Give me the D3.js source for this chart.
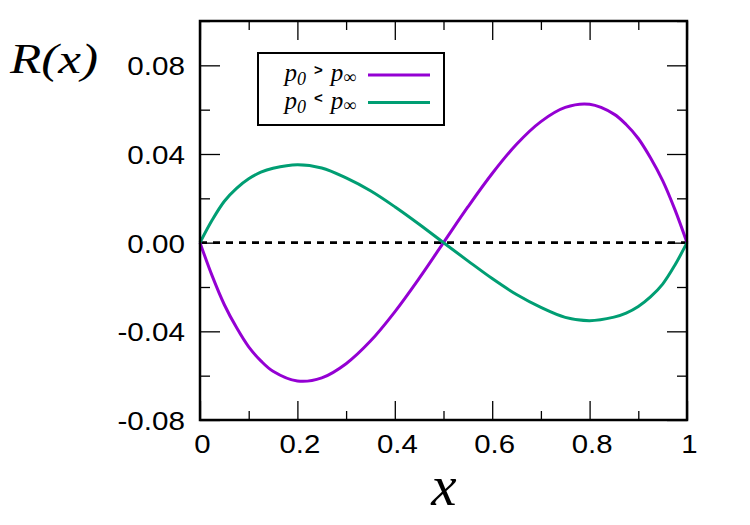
<!DOCTYPE html>
<html>
<head>
<meta charset="utf-8">
<script src="https://cdn.jsdelivr.net/npm/d3@7"></script>
<style>
  body { margin: 0; background: #fff; }
  svg text { fill: #000; }
</style>
</head>
<body>
<div id="chart"></div>
<script>
// values (denser near the ends where the curves bend hard)
var xs = [0, 0.025, 0.05, 0.075, 0.1, 0.125, 0.15, 0.2, 0.25, 0.3, 0.35, 0.4, 0.45, 0.5,
          0.55, 0.6, 0.65, 0.7, 0.75, 0.8, 0.85, 0.875, 0.9, 0.925, 0.95, 0.975, 1];
var r_high = [0, -0.0150, -0.0280, -0.0383, -0.0470, -0.0533, -0.0580, -0.0624, -0.0610, -0.0546, -0.0444, -0.0312, -0.0161, 0,
              0.0161, 0.0312, 0.0444, 0.0546, 0.0610, 0.0624, 0.0580, 0.0533, 0.0470, 0.0383, 0.0280, 0.0150, 0];
var r_low = [0, 0.0102, 0.0187, 0.0245, 0.0288, 0.0318, 0.0336, 0.0352, 0.0337, 0.0292, 0.0234, 0.0162, 0.0083, 0,
             -0.0082, -0.0162, -0.0234, -0.0292, -0.0337, -0.0352, -0.0336, -0.0318, -0.0288, -0.0245, -0.0187, -0.0102, 0];

var xticks_major = [0, 0.2, 0.4, 0.6, 0.8, 1];
var xticks_minor = [0.1, 0.3, 0.5, 0.7, 0.9];
var yticks_major = [-0.08, -0.04, 0, 0.04, 0.08];
var yticks_minor = [-0.06, -0.02, 0.02, 0.06, 0.1];

var svgwidth = 750;
var svgheight = 525;
var left = 200, top_ = 21, right = 687, bottom = 420;

var svg = d3.select('#chart').append('svg')
    .attr('width', svgwidth)
    .attr('height', svgheight)

var xscale = d3.scaleLinear().domain([0, 1]).range([left, right]);
var yscale = d3.scaleLinear().domain([-0.08, 0.1]).range([bottom, top_]);

var tickfont = '"Liberation Sans", Arial, Helvetica, sans-serif';
var seriffont = '"Liberation Serif", "Times New Roman", serif';

// the original text is a bit wider than these fonts, stretch it
function stretch(sel, k) {
    sel.each(function() {
        var w = this.getComputedTextLength();
        d3.select(this).attr('textLength', w * k).attr('lengthAdjust', 'spacingAndGlyphs');
    });
}

// minor ticks (all four sides)
function tickaxis(axis, size, tr) {
    var g = svg.append('g').attr('transform', tr)
        .call(axis.tickSize(size).tickFormat(''));
    g.select('.domain').remove();
    g.selectAll('.tick line').attr('stroke', '#000').attr('stroke-width', 1.3);
    return g;
}
tickaxis(d3.axisBottom(xscale).tickValues(xticks_minor), -9, 'translate(0,' + bottom + ')');
tickaxis(d3.axisTop(xscale).tickValues(xticks_minor), -9, 'translate(0,' + top_ + ')');
tickaxis(d3.axisTop(xscale).tickValues(xticks_major), -19, 'translate(0,' + top_ + ')');
tickaxis(d3.axisLeft(yscale).tickValues(yticks_minor), -10, 'translate(' + left + ',0)');
tickaxis(d3.axisRight(yscale).tickValues(yticks_minor), -10, 'translate(' + right + ',0)');
tickaxis(d3.axisRight(yscale).tickValues(yticks_major), -20, 'translate(' + right + ',0)');

// major ticks with labels
var xaxis = d3.axisBottom(xscale).tickValues(xticks_major).tickSize(-19)
    .tickPadding(10).tickFormat(d => d === 0 || d === 1 ? String(d) : d.toFixed(1));
var gx = svg.append('g').attr('transform', 'translate(0,' + bottom + ')').call(xaxis);
gx.select('.domain').remove();
gx.selectAll('.tick line').attr('stroke', '#000').attr('stroke-width', 1.3);
gx.selectAll('.tick text')
    .attr('font-family', tickfont).attr('font-size', 26)
    .attr('dy', '0.88em').attr('dx', 2)
    .call(stretch, 1.13);

var yaxis = d3.axisLeft(yscale).tickValues(yticks_major).tickSize(-20)
    .tickPadding(15).tickFormat(d => d.toFixed(2));
var gy = svg.append('g').attr('transform', 'translate(' + left + ',0)').call(yaxis);
gy.select('.domain').remove();
gy.selectAll('.tick line').attr('stroke', '#000').attr('stroke-width', 1.3);
gy.selectAll('.tick text')
    .attr('font-family', tickfont).attr('font-size', 26)
    .attr('dy', '0.36em')
    .call(stretch, 1.14);

// zero line
svg.append('line')
    .attr('x1', xscale(0)).attr('x2', xscale(1))
    .attr('y1', yscale(0)).attr('y2', yscale(0))
    .attr('stroke', '#000').attr('stroke-width', 2.6)
    .attr('stroke-dasharray', '7,6');

// curves
var curveline = d3.line().x((d, i) => xscale(xs[i])).y(d => yscale(d))
    .curve(d3.curveCatmullRom.alpha(0.5));
svg.append('path').datum(r_high)
    .attr('d', curveline)
    .attr('fill', 'none').attr('stroke', '#9400d3').attr('stroke-width', 3);
svg.append('path').datum(r_low)
    .attr('d', curveline)
    .attr('fill', 'none').attr('stroke', '#009e73').attr('stroke-width', 3);

// frame
svg.append('rect')
    .attr('x', left).attr('y', top_)
    .attr('width', right - left).attr('height', bottom - top_)
    .attr('fill', 'none').attr('stroke', '#000').attr('stroke-width', 2.5);

// axis titles
svg.append('text')
    .attr('x', 10).attr('y', 73)
    .attr('font-family', seriffont)
    .attr('font-style', 'italic').attr('font-size', 42)
    .text('R(x)')
    .attr('textLength', 88).attr('lengthAdjust', 'spacingAndGlyphs');
svg.append('text')
    .attr('x', 444).attr('y', 505)
    .attr('text-anchor', 'middle')
    .attr('font-family', seriffont)
    .attr('font-style', 'italic').attr('font-size', 57)
    .text('x');

// legend
var legend = svg.append('g');
legend.append('rect')
    .attr('x', 258).attr('y', 53).attr('width', 186).attr('height', 72)
    .attr('fill', '#fff').attr('stroke', '#000').attr('stroke-width', 2);

var legenditems = [
    { sign: '>', color: '#9400d3', y: 75 },
    { sign: '<', color: '#009e73', y: 102.5 }
];
legenditems.forEach(function(it) {
    var t = legend.append('text')
        .attr('x', 356).attr('y', it.y + 6)
        .attr('text-anchor', 'end')
        .attr('font-family', seriffont)
        .attr('font-size', 25);
    t.append('tspan').attr('font-style', 'italic').text('p');
    t.append('tspan').attr('font-style', 'italic').attr('font-size', 18).attr('dy', 4).text('0');
    t.append('tspan').attr('font-family', tickfont).attr('font-size', 15)
        .attr('font-weight', 'bold').attr('dy', -10).attr('dx', 8).text(it.sign);
    t.append('tspan').attr('font-style', 'italic').attr('dy', 6).attr('dx', 8).text('p');
    t.append('tspan').attr('font-size', 18).attr('dy', 2).text('∞');
    legend.append('line')
        .attr('x1', 368).attr('x2', 430)
        .attr('y1', it.y).attr('y2', it.y)
        .attr('stroke', it.color).attr('stroke-width', 3);
});
</script>
</body>
</html>
